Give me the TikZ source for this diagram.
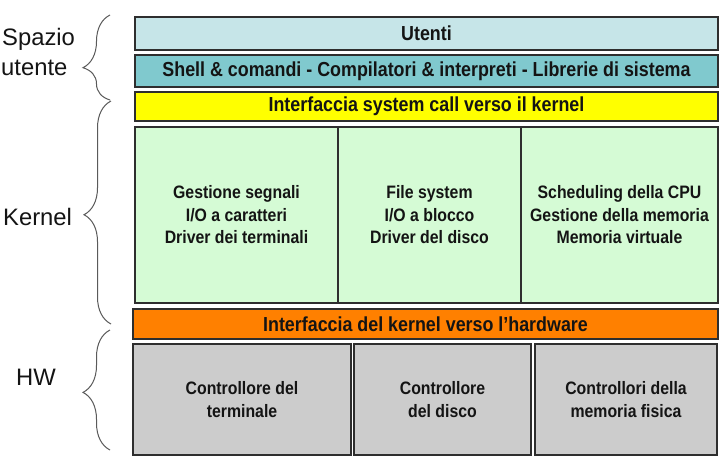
\documentclass[tikz,border=0pt]{standalone}
\usepackage{fontspec}
\setmainfont{Liberation Sans}
\newfontfamily\narrowsans{Liberation Sans}[FakeStretch=0.88]
\usetikzlibrary{decorations.pathreplacing}

\definecolor{edgecol}{HTML}{2E2E2E}
\definecolor{inkcol}{HTML}{141414}
\definecolor{bracecol}{HTML}{5A5A5A}
\definecolor{usercol}{HTML}{C6E5E8}
\definecolor{shellcol}{HTML}{80C9CE}
\definecolor{syscol}{HTML}{FFFF00}
\definecolor{kernelcol}{HTML}{D5FBD5}
\definecolor{hwifcol}{HTML}{FF8000}
\definecolor{hwcol}{HTML}{CCCCCC}

\begin{document}
\begin{tikzpicture}[x=1pt,y=-1pt,
  layer/.style={draw=edgecol, line width=1.2pt, inner sep=0pt, text=inkcol,
    font=\narrowsans\bfseries\fontsize{20.3}{24}\selectfont},
  cell/.style={layer, align=center,
    font=\narrowsans\bfseries\fontsize{18}{22.5}\selectfont},
  side/.style={inner sep=0pt, text=inkcol, font=\fontsize{23.8}{28}\selectfont},
  brace/.style={draw=bracecol, line width=1pt,
    decorate, decoration={brace, amplitude=27pt, aspect=#1}}
]
\useasboundingbox[fill=white] (0,0) rectangle (721,466);

% user space
\node[layer, fill=usercol, minimum width=583, minimum height=33]
  (utenti) at (426.5,33.5) {Utenti};
\node[layer, fill=shellcol, minimum width=583, minimum height=32]
  (shell) at (426.5,71) {Shell \& comandi - Compilatori \& interpreti - Librerie di sistema};

% kernel
\node[layer, fill=syscol, minimum width=583, minimum height=29]
  (syscall) at (426.5,106.5) {Interfaccia system call verso il kernel};
\node[cell, fill=kernelcol, minimum width=203, minimum height=176]
  (kchar) at (236.5,215) {Gestione segnali\\I/O a caratteri\\Driver dei terminali};
\node[cell, fill=kernelcol, minimum width=183, minimum height=176]
  (kblock) at (429.5,215) {File system\\I/O a blocco\\Driver del disco};
\node[cell, fill=kernelcol, minimum width=197, minimum height=176]
  (kmem) at (619.5,215) {Scheduling della CPU\\Gestione della memoria\\Memoria virtuale};
\node[layer, fill=hwifcol, minimum width=585, minimum height=30]
  (hwif) at (425.5,324) {Interfaccia del kernel verso l’hardware};

% hardware
\node[cell, fill=hwcol, minimum width=218, minimum height=111]
  (hwterm) at (242,399.5) {Controllore del\\terminale};
\node[cell, fill=hwcol, minimum width=177, minimum height=111]
  (hwdisk) at (442.5,399.5) {Controllore\\del disco};
\node[cell, fill=hwcol, minimum width=182, minimum height=111]
  (hwmem) at (626,399.5) {Controllori della\\memoria fisica};

% side labels
\node[side, anchor=base west] (lspazio) at (2,45) {Spazio};
\node[side, anchor=base west] (lutente) at (1,75) {utente};
\node[side, anchor=base west] (lkernel) at (3,225) {Kernel};
\node[side, anchor=base west] (lhw) at (16,385) {HW};

% braces
\coordinate (usTop) at (110,15);
\coordinate (usBot) at (110,100);
\coordinate (kTop) at (111,101);
\coordinate (kBot) at (111,324);
\coordinate (hwTop) at (110,330);
\coordinate (hwBot) at (110,450);
\draw[brace=0.38] (usBot) -- (usTop);
\draw[brace=0.49] (kBot) -- (kTop);
\draw[brace=0.48] (hwBot) -- (hwTop);
\end{tikzpicture}
\end{document}
